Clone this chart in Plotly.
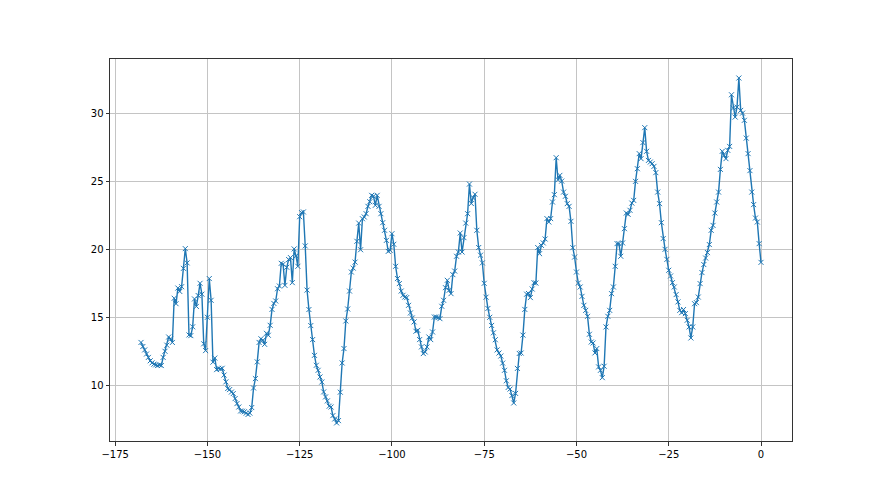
import plotly.graph_objects as go

# Hours relative to now (half-hour steps) and temperature readings
x_start = -168.0
x_step = 0.5

temps_a = [
    13.15, 12.85, 12.6, 12.3, 12.05, 11.8, 11.65, 11.55, 11.5, 11.45,
    11.5, 11.45, 12.05, 12.5, 12.95, 13.55, 13.4, 13.15, 16.4, 16.0,
    17.15, 16.9, 17.25, 18.6, 20.05, 19.0, 13.7, 13.65, 14.3, 16.35,
    15.8, 16.6, 17.5, 16.7, 13.05, 12.55, 15.0, 17.85, 16.25, 11.7,
    12.0, 11.15, 11.25, 11.2, 11.25, 10.75, 10.25, 9.76, 9.68, 9.5,
    9.39, 9.02, 8.65, 8.4, 8.11, 8.09, 8.05, 7.95, 7.85, 7.95,
    8.36, 9.8, 10.49, 11.72, 13.15, 13.42, 13.3, 13.01, 13.82, 13.68,
    14.41, 15.58, 16.02, 16.2, 17.1, 17.3, 18.97, 18.9, 17.35, 18.68,
    19.25, 19.39, 17.55, 20.03, 19.52, 18.75, 22.4, 22.7, 22.75,
]
temps_b = [
    20.25, 17.0, 15.57, 14.39, 13.36, 12.2, 11.47, 11.1, 10.61, 10.24,
    9.51, 9.14, 8.85, 8.46, 8.4, 7.77, 7.52, 7.23, 7.4, 9.49,
    11.64, 12.7, 14.73, 15.61, 16.93, 18.33, 18.62, 19.06, 20.59, 21.93,
    19.97, 22.25, 22.38, 22.62, 23.16, 23.5, 23.97, 23.9, 23.24, 23.97,
    23.16, 22.62, 21.96, 21.4, 20.66, 19.85, 19.93, 21.15, 20.37, 18.75,
    17.85, 17.48, 16.93, 16.62, 16.49, 16.45, 15.88, 15.32, 14.95, 14.66,
    13.97, 14.04, 13.36, 12.82, 12.33, 12.45, 12.82, 13.55, 13.36, 13.92,
    15.02, 15.02, 14.98, 14.9, 15.81, 16.25, 17.18, 17.72, 16.99, 16.74,
    18.14, 18.4, 19.49, 19.8, 21.2, 19.8, 20.86, 21.93, 22.62,
]
temps_c = [
    24.8, 23.37, 23.8, 24.05, 21.4, 20.13, 19.57, 19.0, 17.5, 16.48,
    15.65, 15.0, 14.4, 13.86, 13.35, 12.6, 12.37, 12.15, 11.63, 11.1,
    10.33, 9.84, 9.72, 9.24, 8.7, 9.4, 11.24, 12.34, 12.37, 13.69,
    15.58, 16.7, 16.75, 16.45, 17.08, 17.54, 17.52, 20.13, 19.68, 20.29,
    20.47, 20.76, 22.26, 22.01, 22.26, 23.48, 24.02, 26.74, 25.12, 25.44,
    25.02, 24.21, 23.9, 23.36, 23.16, 22.06, 20.12, 19.43, 18.33, 17.52,
    17.23, 16.54, 15.88, 15.51, 15.07, 13.75, 13.18, 13.11, 12.38, 12.7,
    11.35, 11.1, 10.56, 11.4, 14.29, 15.07, 15.51, 16.74, 17.23, 18.75,
    20.42, 20.42, 19.49, 20.47, 21.52, 22.67, 22.57, 22.87,
]
temps_d = [
    23.4, 23.6, 25.0, 25.93, 27.04, 26.67, 27.85, 28.95, 27.21, 26.54,
    26.42, 26.3, 26.1, 25.64, 24.21, 23.36, 21.96, 20.79, 20.0, 19.26,
    18.46, 18.04, 17.55, 17.23, 16.67, 16.13, 15.51, 15.34, 15.57, 15.27,
    14.78, 14.29, 13.48, 14.29, 16.0, 16.08, 16.49, 17.48, 18.29, 18.88,
    19.36, 19.76, 20.35, 21.4, 21.76, 22.67, 23.48, 24.21, 25.88, 27.21,
    26.91, 26.67, 27.28, 27.57, 31.37, 30.39, 29.73, 30.46, 32.6, 30.22,
    30.02, 29.49, 28.18, 27.04, 25.79, 24.21, 23.29, 22.3, 22.01, 20.42,
    19.04,
]

temps = temps_a + temps_b + temps_c + temps_d
hours = [x_start + x_step * i for i in range(len(temps))]

x_ticks = [-175, -150, -125, -100, -75, -50, -25, 0]
y_ticks = [10, 15, 20, 25, 30]

blue = "#1f77b4"

fig = go.Figure()
fig.add_trace(go.Scatter(
    x=hours, y=temps, mode="lines+markers",
    line=dict(color=blue, width=1.4),
    marker=dict(symbol="x-thin", size=5, line=dict(color=blue, width=1)),
    showlegend=False,
))

axis_common = dict(
    showgrid=True, gridcolor="#c4c4c4", gridwidth=1,
    showline=True, linecolor="#333333", linewidth=1, mirror=True,
    ticks="outside", ticklen=3.5, tickwidth=0.8, tickcolor="#333333",
    zeroline=False,
    tickfont=dict(family="DejaVu Sans", size=10, color="#000000"),
)

fig.update_xaxes(range=[-176.4, 8.4], tickvals=x_ticks,
                 ticktext=[str(v).replace("-", "\u2212") for v in x_ticks],
                 **axis_common)
fig.update_yaxes(range=[5.9, 34.0], tickvals=y_ticks,
                 ticktext=[str(v) for v in y_ticks], **axis_common)

# page body has an 8px margin, so the figure is shifted; compensate
fig.update_layout(
    width=864, height=479,
    margin=dict(l=102, r=80, t=51, b=46),
    paper_bgcolor="#ffffff", plot_bgcolor="#ffffff",
)

fig.write_html("out.html")
